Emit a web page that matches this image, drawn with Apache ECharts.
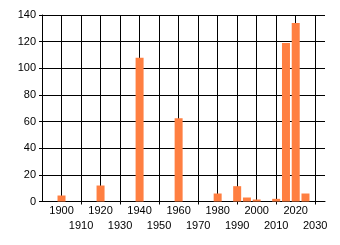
<!DOCTYPE html>
<html><head><meta charset="utf-8">
<script src="https://cdn.jsdelivr.net/npm/echarts@6/dist/echarts.min.js"></script>
<style>html,body{margin:0;padding:0;background:#fff}#c{width:340px;height:245px}</style>
</head><body><div id="c"></div>
<script>
const years = [1900, 1920, 1940, 1960, 1980, 1990, 1995, 2000, 2010, 2015, 2020, 2025];
const counts = [4.5, 12, 108, 62.5, 6, 11.5, 3, 1.5, 2, 119, 134, 6];
const xTicks = [1900, 1910, 1920, 1930, 1940, 1950, 1960, 1970, 1980, 1990, 2000, 2010, 2020, 2030];
const yTicks = [0, 20, 40, 60, 80, 100, 120, 140];

const oddTicks = xTicks.filter(function (t) { return (t / 10) % 2 === 1; });
const evenTicks = xTicks.filter(function (t) { return (t / 10) % 2 === 0; });
const gridLines = xTicks.map(function (t) {
  return [{ coord: [t, yTicks[0]] }, { coord: [t, yTicks[yTicks.length - 1]] }];
});

const labelStyle = {
  showMinLabel: true,
  showMaxLabel: true,
  hideOverlap: false,
  margin: 4,
  color: '#000',
  fontSize: 11,
  fontFamily: 'Liberation Sans',
  formatter: function (v) { return String(v); }
};

const chart = echarts.init(document.getElementById('c'), null, { renderer: 'canvas' });
chart.setOption({
  animation: false,
  backgroundColor: '#fff',
  textStyle: { fontFamily: 'Liberation Sans' },
  grid: { left: 42, top: 15, right: 15, bottom: 43.5, containLabel: false },
  xAxis: [{
    type: 'value',
    min: 1890, max: 2035, interval: 10,
    axisLine: { show: true, lineStyle: { color: '#000', width: 1 } },
    axisTick: { show: true, length: 3, inside: false, customValues: oddTicks, lineStyle: { color: '#000' } },
    splitLine: { show: false },
    axisLabel: Object.assign({ customValues: evenTicks }, labelStyle)
  }, {
    type: 'value',
    position: 'bottom',
    offset: 15,
    min: 1890, max: 2035, interval: 10,
    axisLine: { show: false },
    axisTick: { show: false },
    splitLine: { show: false },
    axisLabel: Object.assign({ customValues: oddTicks }, labelStyle)
  }],
  yAxis: {
    type: 'value',
    min: 0, max: 140, interval: 20,
    axisLine: { show: true, lineStyle: { color: '#000', width: 1 } },
    axisTick: { show: true, length: 3, lineStyle: { color: '#000' } },
    splitLine: { show: true, lineStyle: { color: '#000', width: 1 } },
    axisLabel: { margin: 6, color: '#000', fontSize: 11, fontFamily: 'Liberation Sans' }
  },
  series: [{
    type: 'line',
    data: [],
    silent: true,
    z: 1,
    markLine: {
      silent: true,
      symbol: ['none', 'none'],
      label: { show: false },
      lineStyle: { color: '#000', width: 1, type: 'solid' },
      data: gridLines
    }
  }, {
    type: 'bar',
    barWidth: 8,
    itemStyle: { color: '#ff7f41' },
    data: years.map(function (y, i) { return [y, counts[i]]; }),
    z: 5
  }]
});
</script></body></html>
